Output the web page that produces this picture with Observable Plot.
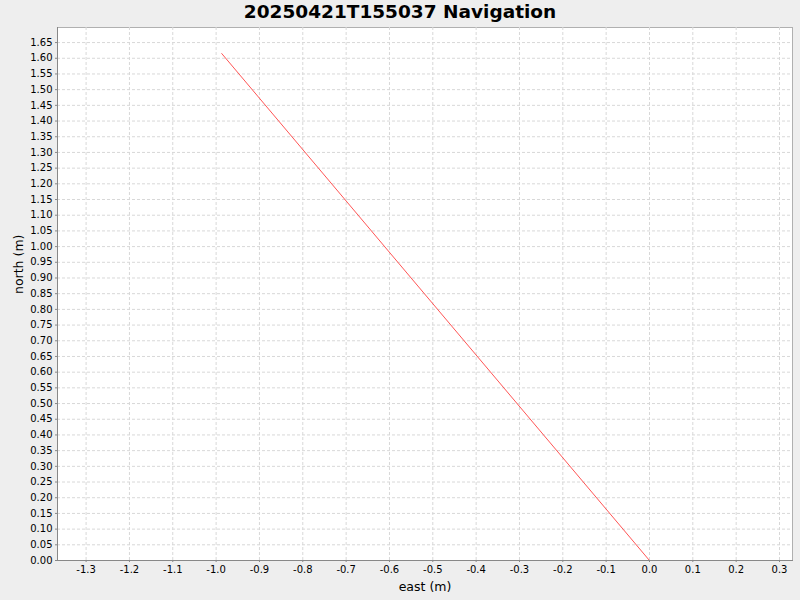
<!DOCTYPE html>
<html>
<head>
<meta charset="utf-8">
<script src="https://cdn.jsdelivr.net/npm/d3@7"></script>
<script src="https://cdn.jsdelivr.net/npm/@observablehq/plot@0.6"></script>
<style>
  html, body { margin: 0; padding: 0; background: #eeeeee; }
  #wrap { position: relative; width: 800px; height: 600px; font-family: "DejaVu Sans", sans-serif; }
  #title { position: absolute; top: 1px; left: 0; width: 800px; text-align: center; font-weight: bold; font-size: 18.5px; color: #000; line-height: 22px; }
</style>
</head>
<body>
<div id="wrap">
  <div id="title">20250421T155037 Navigation</div>
  <div id="chart"></div>
</div>
<script>
const title = "20250421T155037 Navigation";
const eastValues = [0.0, -0.987];
const northValues = [0.0, 1.615];
const xTicks = [-1.3, -1.2, -1.1, -1.0, -0.9, -0.8, -0.7, -0.6, -0.5, -0.4, -0.3, -0.2, -0.1, 0.0, 0.1, 0.2, 0.3];
const yTicks = [0.00, 0.05, 0.10, 0.15, 0.20, 0.25, 0.30, 0.35, 0.40, 0.45, 0.50, 0.55, 0.60, 0.65, 0.70, 0.75, 0.80, 0.85, 0.90, 0.95, 1.00, 1.05, 1.10, 1.15, 1.20, 1.25, 1.30, 1.35, 1.40, 1.45, 1.50, 1.55, 1.60, 1.65];
const xLabel = "east (m)";
const yLabel = "north (m)";

const track = eastValues.map((e, i) => ({east: e, north: northValues[i]}));

const chart = Plot.plot({
  width: 800,
  height: 600,
  marginLeft: 57,
  marginRight: 8,
  marginTop: 27,
  marginBottom: 40,
  style: {background: "#eeeeee", fontFamily: "DejaVu Sans, sans-serif", fontSize: "10px", color: "#000"},
  x: {domain: [-1.366, 0.330], ticks: xTicks, tickFormat: d => d.toFixed(1), label: null},
  y: {domain: [0, 1.698], ticks: yTicks, tickFormat: d => d.toFixed(2), label: null},
  marks: [
    Plot.frame({fill: "white", stroke: "#b0b0b0"}),
    Plot.gridX(xTicks, {stroke: "#d8d8d8", strokeOpacity: 1, strokeDasharray: "3,2"}),
    Plot.gridY(yTicks, {stroke: "#d8d8d8", strokeOpacity: 1, strokeDasharray: "3,2"}),
    Plot.line(track, {x: "east", y: "north", stroke: "#ff5555", strokeWidth: 1}),
    Plot.axisX(xTicks, {tickSize: 2, tickPadding: 3, stroke: "#888", tickFormat: d => d.toFixed(1), label: null}),
    Plot.axisY(yTicks, {tickSize: 2, tickPadding: 3, stroke: "#888", tickFormat: d => d.toFixed(2), label: null}),
    Plot.frame({anchor: "left", stroke: "#888"}),
    Plot.frame({anchor: "bottom", stroke: "#888"}),
    Plot.text([xLabel], {frameAnchor: "bottom", dy: 30, fontSize: 12.5, fill: "#000"}),
    Plot.text([yLabel], {frameAnchor: "left", dx: -39, rotate: -90, fontSize: 12.5, fill: "#000"})
  ]
});
document.getElementById("chart").appendChild(chart);
</script>
</body>
</html>
